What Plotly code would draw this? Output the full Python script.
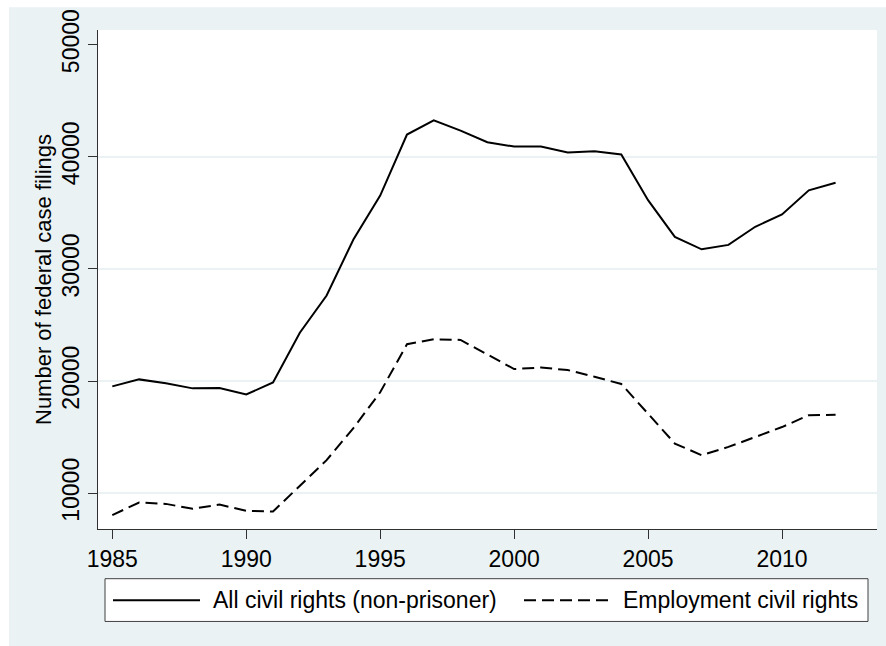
import plotly.graph_objects as go

years = list(range(1985, 2013))
all_civil = [19530, 20150, 19800, 19350, 19390, 18800, 19880, 24310, 27630, 32620,
             36540, 41980, 43250, 42330, 41290, 40910, 40910, 40380, 40500, 40200,
             36130, 32850, 31750, 32140, 33760, 34850, 37010, 37690]
employment = [8050, 9170, 9050, 8610, 8990, 8430, 8370, 10700, 12950, 15810,
              19000, 23290, 23730, 23670, 22400, 21070, 21210, 20980, 20390, 19740,
              17090, 14430, 13390, 14130, 15010, 15900, 16960, 17000]
x_ticks = [1985, 1990, 1995, 2000, 2005, 2010]
y_ticks = [10000, 20000, 30000, 40000, 50000]
y_grid = [10000, 20000, 30000, 40000]
series_names = ["All civil rights (non-prisoner)", "Employment civil rights"]

BG = "#EAF2F3"
FONT = "Liberation Sans, Arial, Helvetica, sans-serif"
DASH = "12px,6px"
FS = 23

W, H = 886, 646
ML, MR, MT, MB = 98, 9, 27, 117
PW, PH = W - ML - MR, H - MT - MB


def px_x(p):
    return (p - ML) / PW


def px_y(p):
    return (H - MB - p) / PH


fig = go.Figure()
fig.add_trace(go.Scatter(x=years, y=all_civil, mode="lines", name=series_names[0],
                         line=dict(color="black", width=2), showlegend=False))
fig.add_trace(go.Scatter(x=years, y=employment, mode="lines", name=series_names[1],
                         line=dict(color="black", width=2, dash=DASH), showlegend=False))

shapes = []
# white strips outside the graph region (top and left)
shapes.append(dict(type="rect", xref="paper", yref="paper", x0=px_x(0), x1=px_x(W + 5),
                   y0=px_y(4), y1=px_y(-5), fillcolor="white", line=dict(width=0), layer="above"))
shapes.append(dict(type="rect", xref="paper", yref="paper", x0=px_x(-5), x1=px_x(9),
                   y0=px_y(H + 5), y1=px_y(-5), fillcolor="white", line=dict(width=0), layer="above"))
# legend box
shapes.append(dict(type="rect", xref="paper", yref="paper", x0=px_x(105), x1=px_x(868),
                   y0=px_y(622), y1=px_y(579), fillcolor="white",
                   line=dict(color="#404040", width=1)))
ly = px_y(600.7)
shapes.append(dict(type="line", xref="paper", yref="paper", x0=px_x(113), x1=px_x(200),
                   y0=ly, y1=ly, line=dict(color="black", width=2)))
shapes.append(dict(type="line", xref="paper", yref="paper", x0=px_x(524), x1=px_x(612),
                   y0=ly, y1=ly, line=dict(color="black", width=2, dash=DASH)))

annotations = [
    dict(text=series_names[0], xref="paper", yref="paper", x=px_x(211), y=ly,
         xanchor="left", yanchor="middle", showarrow=False, font=dict(size=FS, color="black")),
    dict(text=series_names[1], xref="paper", yref="paper", x=px_x(621), y=ly,
         xanchor="left", yanchor="middle", showarrow=False, font=dict(size=FS, color="black")),
]

fig.update_layout(
    width=W, height=H,
    margin=dict(l=ML, r=MR, t=MT, b=MB, pad=0),
    paper_bgcolor=BG, plot_bgcolor="white",
    font=dict(family=FONT, size=FS, color="black"),
    shapes=shapes, annotations=annotations,
    showlegend=False,
    xaxis=dict(range=[1984.466, 2013.546], tickvals=x_ticks, ticktext=[str(v) for v in x_ticks],
               showgrid=False, zeroline=False, showline=True, linecolor="#303030", linewidth=1.2,
               ticks="outside", ticklen=9, tickwidth=1.2, tickcolor="#303030",
               tickfont=dict(size=FS)),
    yaxis=dict(range=[6811, 51302], tickvals=y_ticks, ticktext=[str(v) for v in y_ticks],
               tickangle=-90, showgrid=False, zeroline=False, showline=True,
               linecolor="#303030", linewidth=1.2,
               ticks="outside", ticklen=9, tickwidth=1.2, tickcolor="#303030",
               tickfont=dict(size=FS),
               minor=dict(tickvals=y_grid, showgrid=True, gridcolor=BG, gridwidth=2, ticks=""),
               title=dict(text="Number of federal case filings", font=dict(size=22), standoff=0)),
)

fig.write_html("out.html", config={"displayModeBar": False},
               post_script="document.body.style.margin='0px';")
